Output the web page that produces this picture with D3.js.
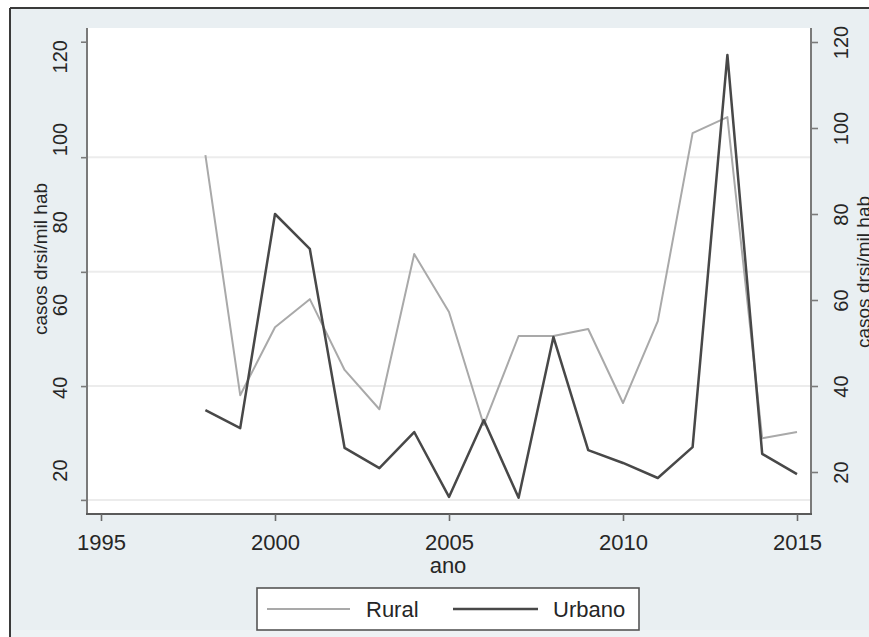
<!DOCTYPE html>
<html><head><meta charset="utf-8">
<script src="https://cdn.jsdelivr.net/npm/d3@7"></script>
<style>
body{margin:0;background:#fff}
svg text{font-family:"Liberation Sans",Arial,Helvetica,sans-serif;fill:#262626}
</style>
</head><body>
<svg id="chart" width="869" height="637"></svg>
<script>
// ---- data ----
const years  = [1998,1999,2000,2001,2002,2003,2004,2005,2006,2007,2008,2009,2010,2011,2012,2013,2014,2015];
const rural  = [96.1,38.1,54.5,61.3,44.2,34.7,72.2,58.2,30.9,52.4,52.4,54.1,36.2,56.0,101.4,105.3,27.7,29.2];
const urbano = [34.4,30.2,80.0,71.9,25.6,20.9,29.3,14.2,32.1,14.0,51.4,25.1,22.1,18.6,25.8,117.0,24.2,19.5];
const xTickValues = [1995,2000,2005,2010,2015];
const yLabelValues = [20,40,60,80,100,120];
const leftTickMarks = [12.8,40.3,67.9,95.6,123.5];   // tick marks / grid lines of left axis
const seriesNames = ["Rural","Urbano"];
const xTitle = "ano";
const yTitle = "casos drsi/mil hab";

// ---- layout ----
const W = 869, H = 637;
const P = {left:87, right:811, top:28, bottom:514};
const svg = d3.select("#chart");

// graph region background + frame
svg.append("rect").attr("x",10).attr("y",8).attr("width",W-10).attr("height",H-8).attr("fill","#e9eff2");
svg.append("rect").attr("x",10).attr("y",630).attr("width",W-10).attr("height",7).attr("fill","#eef2f4");
svg.append("line").attr("x1",10).attr("x2",W).attr("y1",8).attr("y2",8).attr("stroke","#3a3a3a").attr("stroke-width",2);
svg.append("line").attr("x1",10).attr("x2",10).attr("y1",8).attr("y2",H).attr("stroke","#3a3a3a").attr("stroke-width",2);

// plot region
svg.append("rect").attr("x",P.left).attr("y",P.top).attr("width",P.right-P.left).attr("height",P.bottom-P.top).attr("fill","#ffffff");

// scales
const x = d3.scaleLinear().domain([1995,2015]).range([101,797]);
const yL = d3.scaleLinear().domain([20,120]).range([470.1,56.2]);
const yR = d3.scaleLinear().domain([20,120]).range([472,42]);

// grid lines
svg.append("g").selectAll("line").data(leftTickMarks.filter(v=>yL(v)>P.top+20)).join("line")
  .attr("x1",P.left).attr("x2",P.right)
  .attr("y1",d=>yL(d)).attr("y2",d=>yL(d))
  .attr("stroke","#ececec").attr("stroke-width",2);

// series lines
const lineL = d3.line().x((d,i)=>x(years[i])).y(d=>yL(d));
const lineR = d3.line().x((d,i)=>x(years[i])).y(d=>yR(d));
svg.append("path").datum(rural).attr("d",lineL).attr("fill","none")
  .attr("stroke","#a9a9a9").attr("stroke-width",2).attr("stroke-linejoin","round");
svg.append("path").datum(urbano).attr("d",lineR).attr("fill","none")
  .attr("stroke","#484848").attr("stroke-width",2.5).attr("stroke-linejoin","round");

// axis lines
svg.append("line").attr("x1",P.left).attr("x2",P.left).attr("y1",P.top).attr("y2",P.bottom).attr("stroke","#7a7a7a").attr("stroke-width",2);
svg.append("line").attr("x1",P.right).attr("x2",P.right).attr("y1",P.top).attr("y2",P.bottom).attr("stroke","#7a7a7a").attr("stroke-width",2);
svg.append("line").attr("x1",P.left-1).attr("x2",P.right+1).attr("y1",P.bottom).attr("y2",P.bottom).attr("stroke","#5a5a5a").attr("stroke-width",2);

// left axis: tick marks
const gLT = svg.append("g").attr("transform",`translate(${P.left},0)`)
  .call(d3.axisLeft(yL).tickValues(leftTickMarks).tickSize(6).tickFormat(""));
gLT.select(".domain").remove();
gLT.selectAll(".tick line").attr("stroke","#7a7a7a").attr("stroke-width",1.6);

// left axis: labels
const gLL = svg.append("g").attr("transform",`translate(${P.left},0)`)
  .call(d3.axisLeft(yL).tickValues(yLabelValues).tickSize(0));
gLL.select(".domain").remove();
gLL.selectAll(".tick text")
  .attr("x",0).attr("dy","0.36em").attr("text-anchor","middle")
  .attr("transform","translate(-27,0) rotate(-90)")
  .style("font-size","20px").style("font-family",null);

// right axis
const gR = svg.append("g").attr("transform",`translate(${P.right},0)`)
  .call(d3.axisRight(yR).tickValues(yLabelValues).tickSize(7));
gR.select(".domain").remove();
gR.selectAll(".tick line").attr("stroke","#7a7a7a").attr("stroke-width",1.6);
gR.selectAll(".tick text")
  .attr("x",0).attr("dy","0.36em").attr("text-anchor","middle")
  .attr("transform","translate(30,0) rotate(-90)")
  .style("font-size","20px").style("font-family",null);

// x axis
const gX = svg.append("g").attr("transform",`translate(0,${P.bottom})`)
  .call(d3.axisBottom(x).tickValues(xTickValues).tickSize(7).tickFormat(d3.format("d")));
gX.select(".domain").remove();
gX.selectAll(".tick line").attr("stroke","#6a6a6a").attr("stroke-width",1.6);
gX.selectAll(".tick text").attr("y",0).attr("dy","36px")
  .style("font-size","22px").style("font-family",null);

// titles
svg.append("text").attr("x",448).attr("y",573).attr("text-anchor","middle")
  .style("font-size","22px").text(xTitle);
svg.append("text").attr("transform","translate(40,259) rotate(-90)").attr("dy","0.36em")
  .attr("text-anchor","middle").style("font-size","19px").text(yTitle);
svg.append("text").attr("transform","translate(863,272) rotate(-90)").attr("dy","0.36em")
  .attr("text-anchor","middle").style("font-size","19px").text(yTitle);

// legend
const lg = svg.append("g");
lg.append("rect").attr("x",257).attr("y",588).attr("width",382).attr("height",42)
  .attr("fill","#ffffff").attr("stroke","#555").attr("stroke-width",1.6);
const legendItems = [
  {name:seriesNames[0], color:"#a9a9a9", w:2,   x1:267, x2:350, tx:366},
  {name:seriesNames[1], color:"#484848", w:2.5, x1:453, x2:538, tx:553}
];
legendItems.forEach(it=>{
  lg.append("line").attr("x1",it.x1).attr("x2",it.x2).attr("y1",609).attr("y2",609)
    .attr("stroke",it.color).attr("stroke-width",it.w);
  lg.append("text").attr("x",it.tx).attr("y",609).attr("dy","0.36em")
    .style("font-size","22px").text(it.name);
});
</script>
</body></html>
